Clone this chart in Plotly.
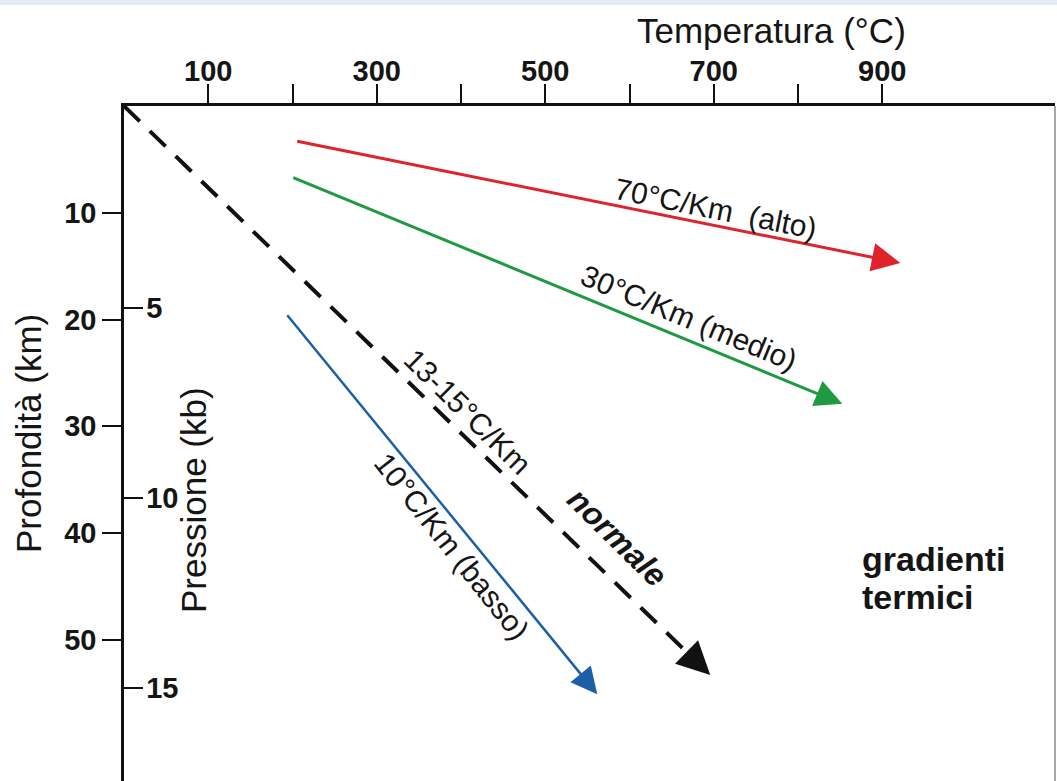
import numpy as np
import plotly.graph_objects as go

# ---- data ----
temp_ticks = [100, 200, 300, 400, 500, 600, 700, 800, 900]
temp_tick_labels = ["100", "", "300", "", "500", "", "700", "", "900"]
depth_ticks = [10, 20, 30, 40, 50]
pressure_ticks = [5, 10, 15]

# gradients: temperature (°C) and depth (km) of start and arrow tip
alto_T = [205.6, 921.4]
alto_D = [3.3, 14.7]
medio_T = [200.9, 852.5]
medio_D = [6.7, 27.9]
normale_T = [0.0, 695.8]
normale_D = [0.0, 53.3]
basso_T = [193.8, 561.7]
basso_D = [19.6, 55.1]

label_alto = "70°C/Km  (alto)"
label_medio = "30°C/Km (medio)"
label_normale_grad = "13-15°C/Km"
label_normale = "normale"
label_basso = "10°C/Km (basso)"

FONT = "Liberation Sans, Arial, Helvetica, sans-serif"
INK = "#151515"

RED = "#e0222a"
GREEN = "#1f9a43"
BLUE = "#1c5fa5"
BLACK = "#111111"

fig = go.Figure()

series = [
    (alto_T, alto_D, RED, 3, "solid", 1.9),
    (medio_T, medio_D, GREEN, 3, "solid", 1.8),
    (normale_T, normale_D, BLACK, 4, "22px,14px", 1.65),
    (basso_T, basso_D, BLUE, 2.5, "solid", 2.1),
]

annotations = []
for T, D, col, w, dash, asize in series:
    T = np.array(T, dtype=float)
    D = np.array(D, dtype=float)
    # shaft stops just before the tip so the arrowhead covers its end
    shaft_T = [T[0], T[1] - (T[1] - T[0]) * 0.03]
    shaft_D = [D[0], D[1] - (D[1] - D[0]) * 0.03]
    fig.add_trace(go.Scatter(
        x=shaft_T, y=shaft_D, mode="lines",
        line=dict(color=col, width=w, dash=dash),
        showlegend=False, hoverinfo="skip",
    ))
    annotations.append(dict(
        x=T[1], y=D[1], xref="x", yref="y",
        ax=T[1] - (T[1] - T[0]) * 0.03, ay=D[1] - (D[1] - D[0]) * 0.03,
        axref="x", ayref="y", text="", showarrow=True,
        arrowhead=2, arrowsize=asize, arrowwidth=w, arrowcolor=col,
        standoff=0,
    ))

def label(text, x, y, angle, size, weight="normal", style="normal"):
    return dict(
        x=x, y=y, xref="x", yref="y", text=text, showarrow=False,
        textangle=angle, xanchor="center", yanchor="middle",
        font=dict(family=FONT, size=size, color=INK, weight=weight, style=style),
    )

annotations += [
    label(label_alto, 702, 9.6, 11.4, 30),
    label(label_medio, 670, 19.8, 22.4, 30),
    label(label_normale_grad, 408, 28.6, 44.5, 30),
    label(label_normale, 585, 40.4, 44.5, 32, weight="bold", style="italic"),
    label(label_basso, 389, 41.3, 51.5, 30),
    dict(x=874, y=42.4, xref="x", yref="y", text="gradienti", showarrow=False,
         xanchor="left", yanchor="middle",
         font=dict(family=FONT, size=34, color=INK, weight="bold")),
    dict(x=874, y=46.0, xref="x", yref="y", text="termici", showarrow=False,
         xanchor="left", yanchor="middle",
         font=dict(family=FONT, size=34, color=INK, weight="bold")),
    # axis titles
    dict(x=771, y=31, xref="paper", yref="paper", text="Temperatura (°C)",
         showarrow=False, xanchor="center", yanchor="middle",
         font=dict(family=FONT, size=35, color=INK)),
    dict(x=29, y=434, xref="paper", yref="paper", text="Profondità (km)",
         showarrow=False, textangle=-90, xanchor="center", yanchor="middle",
         font=dict(family=FONT, size=35, color=INK)),
    dict(x=193, y=500, xref="paper", yref="paper", text="Pressione (kb)",
         showarrow=False, textangle=-90, xanchor="center", yanchor="middle",
         font=dict(family=FONT, size=35, color=INK)),
]

# convert pixel-placed title annotations to paper coordinates
W, H = 1057, 781
L, R, T_, B = 124, 2, 106, 0
pw, ph = W - L - R, H - T_ - B
for a in annotations:
    if a.get("xref") == "paper":
        a["x"] = (a["x"] - L) / pw
        a["y"] = 1 - (a["y"] - T_) / ph

fig.update_layout(
    width=W, height=H, autosize=False,
    margin=dict(l=L, r=R, t=T_, b=B, pad=0),
    paper_bgcolor="white", plot_bgcolor="white",
    showlegend=False,
    annotations=annotations,
    xaxis=dict(
        range=[0, 1105], side="top",
        tickvals=temp_ticks, ticktext=temp_tick_labels,
        ticks="outside", ticklen=19, tickwidth=2, tickcolor=BLACK,
        showline=True, linewidth=3, linecolor=BLACK,
        showgrid=False, zeroline=False, ticklabelstandoff=-9,
        tickfont=dict(family=FONT, size=29, color=INK, weight="bold"),
    ),
    yaxis=dict(
        range=[63.23, 0],
        tickvals=depth_ticks,
        ticks="outside", ticklen=19, tickwidth=2, tickcolor=BLACK,
        showline=True, linewidth=2.5, linecolor=BLACK,
        showgrid=False, zeroline=False,
        tickfont=dict(family=FONT, size=29, color=INK, weight="bold"),
    ),
    yaxis2=dict(
        range=[17.447, -0.316], overlaying="y", side="left", anchor="x",
        tickvals=pressure_ticks,
        ticks="inside", ticklen=19, tickwidth=2, tickcolor=BLACK,
        ticklabelposition="inside", ticklabelstandoff=6,
        showline=False, showgrid=False, zeroline=False,
        tickfont=dict(family=FONT, size=29, color=INK, weight="bold"),
    ),
    shapes=[
        dict(type="rect", xref="paper", yref="paper",
             x0=-L / pw, x1=1 + R / pw, y0=1 + (T_ - 5) / ph, y1=1 + T_ / ph,
             fillcolor="#e4ebf5", line=dict(width=0), layer="below"),
        dict(type="line", xref="paper", yref="paper", x0=1, x1=1, y0=0, y1=1,
             line=dict(color="#8a8a8a", width=1.5)),
    ],
)

# invisible trace to activate the pressure axis
fig.add_trace(go.Scatter(x=[None], y=[None], yaxis="y2", showlegend=False,
                         hoverinfo="skip"))

fig.write_html("out.html")
